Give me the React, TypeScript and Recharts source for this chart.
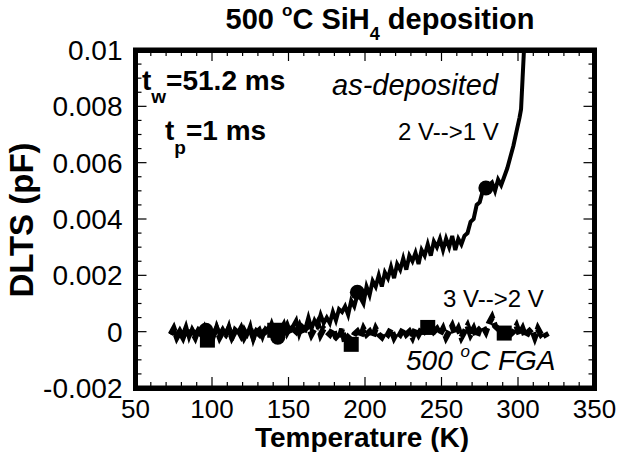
import React from 'react';
import { ComposedChart, Line, Scatter, XAxis, YAxis, Customized } from 'recharts';

const FONT = "'Liberation Sans', Arial, Helvetica, sans-serif";

// Axis ticks
const xTicks = [50, 60, 70, 80, 90, 100, 110, 120, 130, 140, 150, 160, 170, 180, 190, 200, 210, 220, 230, 240, 250, 260, 270, 280, 290, 300, 310, 320, 330, 340, 350];
const xMajorValues = [50, 100, 150, 200, 250, 300, 350];
const xMajorLabels = ['50', '100', '150', '200', '250', '300', '350'];
const yTicks = [-0.002, -0.0015, -0.001, -0.0005, 0, 0.0005, 0.001, 0.0015, 0.002, 0.0025, 0.003, 0.0035, 0.004, 0.0045, 0.005, 0.0055, 0.006, 0.0065, 0.007, 0.0075, 0.008, 0.0085, 0.009, 0.0095, 0.01];
const yMajorValues = [-0.002, 0, 0.002, 0.004, 0.006, 0.008, 0.01];
const yMajorLabels = ['-0.002', '0', '0.002', '0.004', '0.006', '0.008', '0.01'];
const xDomain = [50, 350];
const yDomain = [-0.002, 0.01];

// as-deposited, 2 V-->1 V
const asDepTemps = [73, 75, 77, 79, 81, 83, 85, 87, 89, 91, 93, 95, 97, 99, 101, 103, 105, 107, 109, 111, 113, 115, 117, 119, 121, 123, 125, 127, 129, 131, 133, 135, 137, 139, 141, 143, 145, 147, 149, 151, 153, 155, 157, 159, 161, 163, 165, 167, 169, 171, 173, 175, 177, 179, 181, 183, 185, 187, 189, 191, 193, 195, 197, 199, 201, 203, 205, 207, 209, 211, 213, 215, 217, 219, 221, 223, 225, 227, 229, 231, 233, 235, 237, 239, 241, 243, 245, 247, 249, 251, 253, 255, 257, 259, 261, 263, 265, 267, 269, 271, 273, 275, 277, 279, 281, 283, 285, 287, 289, 291, 293, 295, 297, 299, 301, 302, 303, 304];
const asDepValues = [-0.0001, 0.0001, -0.0002, 0.0, -0.0001, 0.0002, -0.0002, 0.0001, -0.0001, 0.0001, 0.0, 0.0002, -0.0001, 0.0, -0.0002, 0.0002, -0.0001, 0.0001, -0.0001, 0.0002, -0.0003, 0.0001, 0.0, -0.0002, 0.0001, -0.0001, 0.0002, -0.0003, 0.0, 0.0001, -0.0002, 0.0001, 0.0, 0.0003, 0.0, -0.0002, 0.0001, 0.0003, -0.0001, 0.0001, 0.0002, 0.0004, -0.0001, 0.0002, 0.0001, 0.0005, 0.0001, 0.0004, 0.0002, 0.0006, 0.0003, 0.0005, 0.0003, 0.0007, 0.0004, 0.0008, 0.0007, 0.0009, 0.0006, 0.0011, 0.0009, 0.0013, 0.0012, 0.001, 0.0016, 0.0013, 0.0018, 0.0016, 0.002, 0.0016, 0.0021, 0.0019, 0.0023, 0.0019, 0.0024, 0.0022, 0.0026, 0.0022, 0.0027, 0.0025, 0.0028, 0.0024, 0.0029, 0.0027, 0.0031, 0.0027, 0.0032, 0.003, 0.0033, 0.0029, 0.0033, 0.003, 0.0034, 0.0029, 0.0033, 0.0031, 0.0034, 0.0035, 0.0039, 0.004, 0.0045, 0.0046, 0.005, 0.0051, 0.0052, 0.0053, 0.005, 0.0054, 0.0052, 0.0055, 0.0058, 0.0062, 0.0066, 0.0071, 0.0076, 0.0079, 0.009, 0.0101];

// 500 C FGA, 3 V-->2 V
const fgaTemps = [73, 75, 77, 79, 81, 83, 85, 87, 89, 91, 93, 95, 97, 99, 101, 103, 105, 107, 109, 111, 113, 115, 117, 119, 121, 123, 125, 127, 129, 131, 133, 135, 137, 139, 141, 143, 145, 147, 149, 151, 153, 155, 157, 159, 161, 163, 165, 167, 169, 171, 173, 175, 177, 179, 181, 183, 185, 187, 189, 191, 193, 195, 197, 199, 201, 203, 205, 207, 209, 211, 213, 215, 217, 219, 221, 223, 225, 227, 229, 231, 233, 235, 237, 239, 241, 243, 245, 247, 249, 251, 253, 255, 257, 259, 261, 263, 265, 267, 269, 271, 273, 275, 277, 279, 281, 283, 285, 287, 289, 291, 293, 295, 297, 299, 301, 303, 305, 307, 309, 311, 313, 315, 317, 319];
const fgaValues = [-0.0001, 0.0001, -0.0002, 0.0, -0.0002, 0.0001, -0.0001, 0.0, -0.0002, 0.0001, -0.0001, -0.0002, -0.0003, 0.0, -0.0001, 0.0001, -0.0002, 0.0, -0.0001, 0.0001, -0.0002, 0.0, -0.0001, 0.0001, -0.0002, 0.0, 0.0001, -0.0002, 0.0, -0.0001, 0.0001, 0.0, 0.0001, 0.0, 0.0001, -0.0001, 0.0001, 0.0, 0.0002, -0.0001, 0.0001, 0.0, 0.0002, -0.0001, 0.0001, 0.0002, -0.0001, 0.0001, 0.0003, -0.0001, 0.0001, 0.0, -0.0001, 0.0001, -0.0002, -0.0003, 0.0001, -0.0004, -0.0002, -0.0003, -0.0001, 0.0, -0.0002, 0.0001, -0.0001, 0.0, -0.0002, 0.0001, -0.0001, -0.0002, 0.0, -0.0001, 0.0001, -0.0002, 0.0, -0.0001, 0.0001, -0.0001, 0.0, -0.0002, 0.0001, -0.0001, 0.0001, 0.0, 0.0001, 0.0002, 0.0, 0.0001, -0.0001, 0.0001, -0.0002, 0.0, 0.0002, -0.0001, 0.0001, -0.0002, 0.0, 0.0002, -0.0001, 0.0001, -0.0002, 0.0001, 0.0002, 0.0, 0.0003, 0.0005, 0.0002, 0.0001, 0.0, -0.0001, 0.0001, -0.0001, 0.0, 0.0002, -0.0001, 0.0001, -0.0002, 0.0, 0.0001, -0.0002, 0.0001, -0.0001, 0.0, -0.0002];

// Markers
const circleTemps = [96, 143, 195, 279];
const circleValues = [0.00005, -0.0002, 0.0014, 0.0051];
const squareTemps = [97, 141, 191, 241, 291];
const squareValues = [-0.0003, 0.00005, -0.00045, 0.00015, -0.00005];

const asDepData = asDepTemps.map((t, i) => ({ t, v: asDepValues[i] }));
const fgaData = fgaTemps.map((t, i) => ({ t, v: fgaValues[i] }));
const circleData = circleTemps.map((t, i) => ({ t, v: circleValues[i] }));
const squareData = squareTemps.map((t, i) => ({ t, v: squareValues[i] }));

// plot rectangle inside the 628x452 chart
const W = 628;
const H = 452;
const P = { left: 135.5, right: 594.5, top: 50, bottom: 388 };
const sx = (t: number) => P.left + ((t - xDomain[0]) / (xDomain[1] - xDomain[0])) * (P.right - P.left);
const sy = (v: number) => P.top + ((yDomain[1] - v) / (yDomain[1] - yDomain[0])) * (P.bottom - P.top);

const isXMajor = (v: number) => xMajorValues.some((m) => Math.abs(m - v) < 1e-9);
const isYMajor = (v: number) => yMajorValues.some((m) => Math.abs(m - v) < 1e-9);

const TextLayer = () => {
  const x0 = sx(xDomain[0]);
  const x1 = sx(xDomain[1]);
  const y0 = sy(yDomain[1]);
  const y1 = sy(yDomain[0]);
  return (
    <g>
      {xTicks.map((t) => {
        const L = isXMajor(t) ? 11 : 6;
        const x = sx(t);
        return (
          <g key={'xt' + t}>
            <line x1={x} y1={y1} x2={x} y2={y1 - L} stroke="#000" strokeWidth={1.2} />
            <line x1={x} y1={y0} x2={x} y2={y0 + L} stroke="#000" strokeWidth={1.2} />
          </g>
        );
      })}
      {yTicks.map((v, i) => {
        const L = isYMajor(v) ? 11 : 6;
        const y = sy(v);
        return (
          <g key={'yt' + i}>
            <line x1={x0} y1={y} x2={x0 + L} y2={y} stroke="#000" strokeWidth={1.2} />
            <line x1={x1} y1={y} x2={x1 - L} y2={y} stroke="#000" strokeWidth={1.2} />
          </g>
        );
      })}
      <rect x={x0} y={y0} width={x1 - x0} height={y1 - y0} fill="none" stroke="#000" strokeWidth={5} />
      {xMajorValues.map((t, i) => (
        <text key={'xl' + t} x={sx(t)} y={y1 + 30} textAnchor="middle" fontFamily={FONT} fontSize={26} fill="#000">{xMajorLabels[i]}</text>
      ))}
      {yMajorValues.map((v, i) => (
        <text key={'yl' + i} x={x0 - 13} y={sy(v) + 10} textAnchor="end" fontFamily={FONT} fontSize={28} fill="#000">{yMajorLabels[i]}</text>
      ))}
      <text x={380} y={29} textAnchor="middle" fontFamily={FONT} fontSize={29} fontWeight="bold" fill="#000">
        {'500 '}
        <tspan fontSize={17} dy={-13}>o</tspan>
        <tspan dy={13}>C SiH</tspan>
        <tspan fontSize={18} dy={11}>4</tspan>
        <tspan dy={-11}>{' deposition'}</tspan>
      </text>
      <text x={33} y={220} textAnchor="middle" fontFamily={FONT} fontSize={33} fontWeight="bold" fill="#000" transform="rotate(-90 33 220)">DLTS (pF)</text>
      <text x={362} y={447} textAnchor="middle" fontFamily={FONT} fontSize={28} fontWeight="bold" fill="#000">Temperature (K)</text>
      <text x={142} y={90} fontFamily={FONT} fontSize={28} fontWeight="bold" fill="#000">
        t<tspan fontSize={19} dy={13}>w</tspan>
        <tspan dy={-13}>=51.2 ms</tspan>
      </text>
      <text x={165} y={140} fontFamily={FONT} fontSize={28} fontWeight="bold" fill="#000">
        t<tspan fontSize={19} dy={14}>p</tspan>
        <tspan dy={-14}>=1 ms</tspan>
      </text>
      <text x={332} y={95} fontFamily={FONT} fontSize={29} fontStyle="italic" fill="#000">as-deposited</text>
      <text x={398} y={140} fontFamily={FONT} fontSize={24} fill="#000">2 V--&gt;1 V</text>
      <text x={443} y={307} fontFamily={FONT} fontSize={24} fill="#000">3 V--&gt;2 V</text>
      <text x={406} y={370} fontFamily={FONT} fontSize={28} fontStyle="italic" fill="#000">
        {'500 '}
        <tspan fontSize={17} dy={-13}>o</tspan>
        <tspan dy={13}>C FGA</tspan>
      </text>
    </g>
  );
};

// Frame as an HTML overlay as well
const FrameOverlay = () => {
  const T = 5;
  const x0 = sx(xDomain[0]);
  const x1 = sx(xDomain[1]);
  const y0 = sy(yDomain[1]);
  const y1 = sy(yDomain[0]);
  return (
    <div
      style={{
        position: 'absolute',
        left: x0 - T / 2,
        top: y0 - T / 2,
        width: x1 - x0 + T,
        height: y1 - y0 + T,
        border: `${T}px solid #000`,
        boxSizing: 'border-box',
        pointerEvents: 'none',
      }}
    />
  );
};

const CircleShape = (p: any) => <circle cx={p.cx} cy={p.cy} r={7.5} fill="#000" />;
const SquareShape = (p: any) => <rect x={p.cx - 7.5} y={p.cy - 7.5} width={15} height={15} fill="#000" />;

export default function App() {
  return (
    <div style={{ position: 'absolute', left: 0, top: 0, width: W, height: H, background: '#fff' }}>
      <ComposedChart width={W} height={H} margin={{ top: P.top, right: W - P.right, bottom: H - P.bottom, left: P.left }}>
        <XAxis dataKey="t" type="number" domain={xDomain} ticks={xTicks} hide allowDataOverflow />
        <YAxis type="number" domain={yDomain} ticks={yTicks} hide allowDataOverflow />
        <Line
          data={fgaData}
          dataKey="v"
          type="linear"
          stroke="#000"
          strokeWidth={6}
          strokeDasharray="9 4"
          dot={false}
          activeDot={false}
          isAnimationActive={false}
        />
        <Line
          data={asDepData}
          dataKey="v"
          type="linear"
          stroke="#000"
          strokeWidth={4}
          dot={false}
          activeDot={false}
          isAnimationActive={false}
        />
        <Scatter data={circleData} dataKey="v" shape={CircleShape} isAnimationActive={false} />
        <Scatter data={squareData} dataKey="v" shape={SquareShape} isAnimationActive={false} />
        <Customized component={TextLayer} />
      </ComposedChart>
      <FrameOverlay />
    </div>
  );
}
